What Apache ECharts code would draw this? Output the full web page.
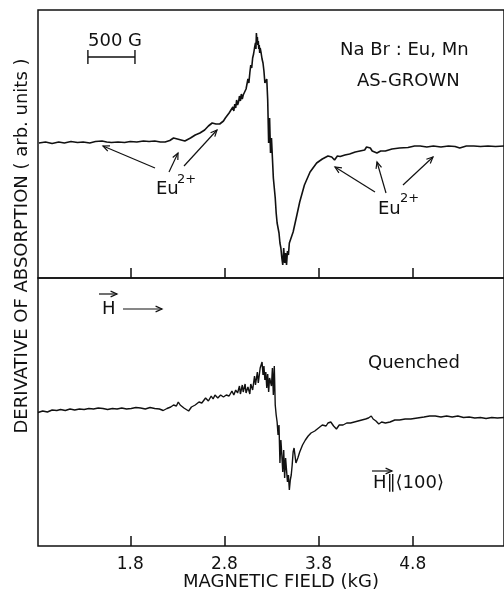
<!DOCTYPE html>
<html>
<head>
<meta charset="utf-8">
<script src="https://cdn.jsdelivr.net/npm/echarts@6/dist/echarts.min.js"></script>
<style>
  html, body { margin: 0; padding: 0; background: #fff; }
  #chart { width: 504px; height: 592px; }
</style>
</head>
<body>
<div id="chart"></div>
<script>
// magnetic field (kG) tick labels
var fieldTicks = [1.8, 2.8, 3.8, 4.8];

// as-grown trace: [field kG, derivative arb. units]
var asGrown = [
  [0.83, 0.0], [0.9, 0.1], [0.97, -0.05], [1.04, 0.1], [1.1, 0.0], [1.17, 0.15], [1.24, 0.05],
  [1.3, 0.1], [1.37, 0.0], [1.43, 0.15], [1.5, 0.2], [1.55, 0.1], [1.6, 0.05], [1.67, 0.1],
  [1.74, 0.05], [1.8, 0.15], [1.87, 0.1], [1.94, 0.2], [2.0, 0.15], [2.06, 0.2], [2.12, 0.1],
  [2.17, 0.1], [2.22, 0.25], [2.26, 0.5], [2.28, 0.7], [2.3, 0.4], [2.32, 0.6], [2.34, 0.3],
  [2.36, 0.1], [2.38, 0.2], [2.4, 0.35], [2.44, 0.5], [2.49, 0.8], [2.54, 1.0], [2.59, 1.3],
  [2.63, 1.7], [2.67, 2.0], [2.71, 1.9], [2.75, 1.9], [2.79, 2.2], [2.81, 2.5], [2.85, 3.0],
  [2.89, 3.6], [2.9, 3.2], [2.91, 3.9], [2.92, 3.5], [2.93, 4.3], [2.94, 3.8], [2.95, 4.1],
  [2.96, 4.7], [2.97, 4.2], [2.98, 4.9], [2.99, 4.4], [3.0, 4.8], [3.01, 5.0], [3.02, 4.7],
  [3.03, 5.4], [3.04, 5.3], [3.05, 6.4], [3.06, 6.0], [3.07, 7.0], [3.08, 7.8], [3.09, 7.5],
  [3.1, 8.5], [3.11, 8.9], [3.12, 9.5], [3.13, 10.0], [3.135, 9.4], [3.14, 11.0], [3.145, 10.2],
  [3.15, 10.6], [3.155, 9.8], [3.16, 10.2], [3.165, 9.4], [3.17, 9.8], [3.175, 9.0], [3.18, 9.5],
  [3.19, 9.0], [3.2, 8.4], [3.21, 8.0], [3.22, 7.2], [3.23, 6.0], [3.24, 5.8], [3.25, 6.4], [3.26, 4.3],
  [3.27, 0.0], [3.28, 2.5], [3.29, -1.0], [3.3, 0.5], [3.31, -1.5], [3.32, -3.5], [3.33, -4.5],
  [3.34, -5.5], [3.35, -7.0], [3.36, -8.0], [3.37, -8.5], [3.38, -9.0], [3.39, -10.0], [3.4, -10.5],
  [3.41, -11.5], [3.42, -12.2], [3.43, -10.5], [3.44, -12.0], [3.45, -11.0], [3.46, -12.2],
  [3.47, -10.8], [3.48, -11.2], [3.49, -10.0], [3.5, -10.2], [3.53, -8.9], [3.57, -7.2],
  [3.6, -5.9], [3.65, -4.2], [3.71, -2.9], [3.78, -2.0], [3.84, -1.6], [3.9, -1.3], [3.94, -1.4],
  [3.97, -1.7], [4.0, -1.3], [4.03, -1.35], [4.08, -1.2], [4.13, -1.1], [4.19, -0.9], [4.24, -0.8],
  [4.29, -0.7], [4.31, -0.4], [4.33, -0.6], [4.35, -0.5], [4.37, -0.8], [4.39, -0.7], [4.42, -1.0],
  [4.46, -0.8], [4.51, -0.8], [4.58, -0.6], [4.66, -0.5], [4.75, -0.45], [4.82, -0.3], [4.88, -0.3],
  [4.95, -0.4], [5.02, -0.3], [5.1, -0.4], [5.18, -0.3], [5.25, -0.35], [5.3, -0.5], [5.37, -0.3],
  [5.45, -0.3], [5.52, -0.35], [5.6, -0.3], [5.68, -0.35], [5.77, -0.3]
];

// quenched trace
var quenched = [
  [0.82, -0.25], [0.87, -0.1], [0.92, -0.2], [0.97, 0.0], [1.02, -0.05], [1.06, 0.05], [1.11, -0.05],
  [1.16, 0.1], [1.21, 0.0], [1.26, 0.1], [1.31, 0.05], [1.36, 0.15], [1.41, 0.1], [1.46, 0.2],
  [1.51, 0.15], [1.56, 0.05], [1.61, 0.15], [1.66, 0.1], [1.71, 0.2], [1.76, 0.1], [1.81, 0.15],
  [1.86, 0.25], [1.91, 0.2], [1.96, 0.1], [2.01, 0.25], [2.06, 0.15], [2.11, 0.1], [2.15, -0.05],
  [2.19, 0.15], [2.23, 0.3], [2.26, 0.5], [2.28, 0.7], [2.29, 0.4], [2.31, 0.8], [2.33, 0.5],
  [2.35, 0.6], [2.37, 0.2], [2.39, 0.1], [2.42, -0.1], [2.45, 0.3], [2.49, 0.5], [2.53, 0.8],
  [2.56, 0.7], [2.6, 1.2], [2.63, 0.9], [2.66, 1.4], [2.68, 1.1], [2.7, 1.5], [2.73, 1.2],
  [2.76, 1.5], [2.79, 1.3], [2.82, 1.5], [2.85, 1.4], [2.88, 1.9], [2.9, 1.5], [2.92, 2.0],
  [2.94, 1.7], [2.96, 2.4], [2.97, 1.6], [2.99, 2.5], [3.0, 1.8], [3.02, 2.6], [3.03, 1.7],
  [3.05, 2.3], [3.07, 1.6], [3.08, 2.6], [3.1, 2.0], [3.12, 3.4], [3.13, 2.5], [3.15, 3.8],
  [3.16, 2.7], [3.18, 4.2], [3.2, 4.8], [3.21, 3.5], [3.22, 4.4], [3.23, 3.0], [3.24, 3.8],
  [3.25, 2.2], [3.26, 3.6], [3.27, 1.8], [3.28, 3.2], [3.3, 2.4], [3.31, 4.2], [3.32, 1.5],
  [3.33, 4.4], [3.34, 0.5], [3.35, -0.5], [3.36, -1.2], [3.37, -2.5], [3.38, -1.5], [3.39, -5.3],
  [3.4, -3.0], [3.41, -4.5], [3.42, -6.2], [3.43, -4.0], [3.44, -6.8], [3.45, -4.8], [3.46, -6.0],
  [3.47, -7.2], [3.48, -6.5], [3.49, -8.0], [3.5, -7.0], [3.51, -6.5], [3.52, -5.5], [3.53, -4.2],
  [3.54, -3.8], [3.56, -5.3], [3.58, -4.8], [3.6, -4.2], [3.63, -3.5], [3.66, -3.0], [3.69, -2.6],
  [3.72, -2.3], [3.76, -2.1], [3.8, -1.8], [3.84, -1.5], [3.88, -1.6], [3.9, -1.3], [3.93, -1.2],
  [3.96, -1.6], [3.99, -1.9], [4.02, -1.5], [4.06, -1.5], [4.1, -1.3], [4.14, -1.3], [4.18, -1.2],
  [4.22, -1.1], [4.26, -1.0], [4.3, -0.9], [4.33, -0.8], [4.36, -0.6], [4.38, -0.9], [4.41, -1.1],
  [4.44, -1.4], [4.47, -1.2], [4.51, -1.3], [4.56, -1.2], [4.61, -1.0], [4.66, -1.0], [4.72, -0.9],
  [4.78, -0.9], [4.85, -0.8], [4.92, -0.7], [4.98, -0.6], [5.04, -0.6], [5.1, -0.7], [5.16, -0.6],
  [5.22, -0.7], [5.28, -0.6], [5.34, -0.75], [5.4, -0.7], [5.46, -0.8], [5.52, -0.75], [5.58, -0.85],
  [5.64, -0.75], [5.7, -0.8], [5.77, -0.75]
];

// 500 G scale bar (with end caps), top panel
var scaleBar = [[1.35, 9.3], [1.35, 7.9], [1.35, 8.6], [1.85, 8.6], [1.85, 9.3], [1.85, 7.9]];

var ink = '#111';
var font = '"DejaVu Sans", sans-serif';

function arrow(x1, y1, x2, y2) {
  var a = Math.atan2(y2 - y1, x2 - x1);
  var L = 7, s = 0.42;
  var p1 = [x2 - L * Math.cos(a - s), y2 - L * Math.sin(a - s)];
  var p2 = [x2 - L * Math.cos(a + s), y2 - L * Math.sin(a + s)];
  return [
    { type: 'polyline', shape: { points: [[x1, y1], [x2, y2]] }, style: { stroke: ink, lineWidth: 1.2, fill: null } },
    { type: 'polyline', shape: { points: [p1, [x2, y2], p2] }, style: { stroke: ink, lineWidth: 1.2, fill: null } }
  ];
}

function label(text, x, y, size, align) {
  return {
    type: 'text', x: x, y: y,
    style: { text: text, font: size + 'px ' + font, fill: ink,
      textAlign: align || 'left', textVerticalAlign: 'middle', align: align || 'left', verticalAlign: 'middle' }
  };
}

var graphics = [
  label('500 G', 88, 41, 18),
  label('Na Br : Eu, Mn', 340, 50, 18),
  label('AS-GROWN', 357, 81, 18),
  label('Eu', 156, 189, 18),
  label('2+', 177, 180, 13),
  label('Eu', 378, 209, 18),
  label('2+', 400, 199, 13),
  label('H', 102, 309, 18),
  label('Quenched', 368, 363, 18),
  label('H\u2225\u27E8100\u27E9', 373, 483, 18),
  label('MAGNETIC FIELD (kG)', 281, 582, 18, 'center'),
  {
    type: 'text', x: 22, y: 246, rotation: Math.PI / 2,
    style: { text: 'DERIVATIVE OF ABSORPTION ( arb. units )', font: '18px ' + font, fill: ink,
      textAlign: 'center', textVerticalAlign: 'middle', align: 'center', verticalAlign: 'middle' }
  }
];
graphics = graphics
  .concat(arrow(155, 168, 103, 146))
  .concat(arrow(169, 172, 178, 153))
  .concat(arrow(184, 166, 217, 130))
  .concat(arrow(375, 192, 335, 167))
  .concat(arrow(386, 193, 377, 162))
  .concat(arrow(403, 185, 433, 157))
  .concat(arrow(99, 294, 117, 294))
  .concat(arrow(123, 309, 162, 309))
  .concat(arrow(372, 471, 392, 471));

function xAxisFor(gridIndex, withLabels) {
  return {
    gridIndex: gridIndex, type: 'value', min: 0.82, max: 5.77, position: 'bottom',
    axisLine: { show: false, onZero: false },
    axisTick: { show: true, inside: true, length: 10, customValues: fieldTicks, lineStyle: { color: ink, width: 1.5 } },
    axisLabel: { show: withLabels, customValues: fieldTicks, margin: 10, color: ink, fontFamily: font, fontSize: 17,
      formatter: function (v) { return v.toFixed(1); } },
    splitLine: { show: false }
  };
}

var chart = echarts.init(document.getElementById('chart'));
chart.setOption({
  animation: false,
  backgroundColor: '#fff',
  grid: [
    { left: 38, top: 10, width: 466, height: 268, show: true, borderColor: ink, borderWidth: 1.5 },
    { left: 38, top: 278, width: 466, height: 268, show: true, borderColor: ink, borderWidth: 1.5 }
  ],
  xAxis: [xAxisFor(0, false), xAxisFor(1, true)],
  yAxis: [
    { gridIndex: 0, type: 'value', min: -13.5, max: 13.3, show: false },
    { gridIndex: 1, type: 'value', min: -13.6, max: 13.2, show: false }
  ],
  series: [
    { type: 'line', xAxisIndex: 0, yAxisIndex: 0, data: asGrown, showSymbol: false,
      lineStyle: { color: ink, width: 1.6 } },
    { type: 'line', xAxisIndex: 0, yAxisIndex: 0, data: scaleBar, showSymbol: false,
      lineStyle: { color: ink, width: 1.4 } },
    { type: 'line', xAxisIndex: 1, yAxisIndex: 1, data: quenched, showSymbol: false,
      lineStyle: { color: ink, width: 1.4 } }
  ],
  graphic: graphics
});
</script>
</body>
</html>
